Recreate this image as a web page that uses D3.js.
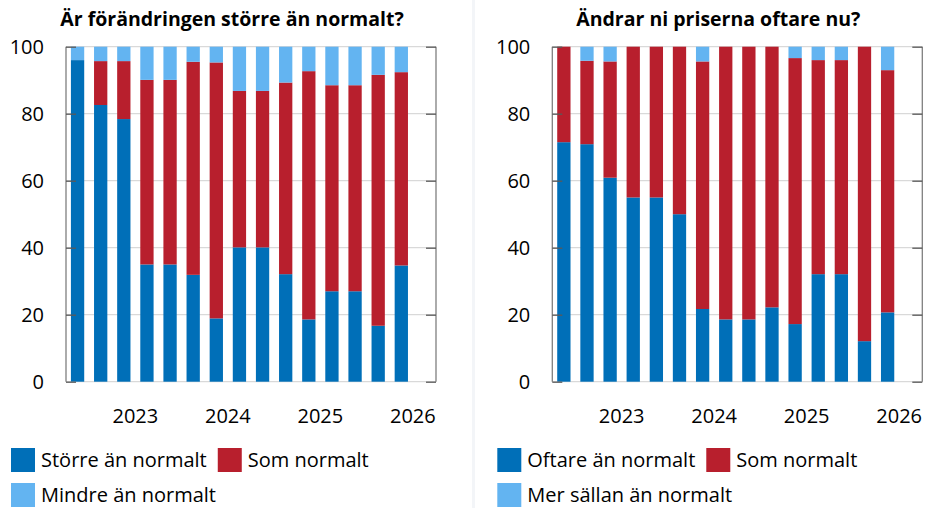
<!DOCTYPE html>
<html>
<head>
<meta charset="utf-8">
<script src="https://cdn.jsdelivr.net/npm/d3@7"></script>
<style>
  html, body { margin: 0; padding: 0; background: #fff; }
  svg { display: block; }
  text { font-family: "Open Sans", "Noto Sans", sans-serif; fill: #000; }
</style>
</head>
<body>
<svg id="chart" width="925" height="508"></svg>
<script>
// ---- Data ----
const quarters = ["2022K4","2023K1","2023K2","2023K3","2023K4","2024K1","2024K2","2024K3","2024K4","2025K1","2025K2","2025K3","2025K4","2026K1","2026K2","2026K3"];
const yearLabels = ["2023","2024","2025","2026"];
const yTicks = [0, 20, 40, 60, 80, 100];

const titleLeft = "Är förändringen större än normalt?";
const seriesLeft = ["Större än normalt", "Som normalt", "Mindre än normalt"];
const storre = [96.0, 82.6, 78.4, 35.0, 35.0, 31.9, 18.9, 40.1, 40.1, 32.1, 18.6, 27.0, 27.0, 16.7, 34.7];
const somLeft = [0.0, 13.1, 17.3, 55.1, 55.1, 63.6, 76.4, 46.7, 46.7, 57.2, 74.1, 61.5, 61.5, 74.9, 57.7];
const mindre = [4.0, 4.3, 4.3, 9.9, 9.9, 4.5, 4.7, 13.2, 13.2, 10.7, 7.3, 11.5, 11.5, 8.4, 7.6];

const titleRight = "Ändrar ni priserna oftare nu?";
const seriesRight = ["Oftare än normalt", "Som normalt", "Mer sällan än normalt"];
const oftare = [71.5, 70.9, 60.9, 55.0, 55.0, 50.0, 21.7, 18.6, 18.6, 22.2, 17.2, 32.1, 32.1, 12.1, 20.7];
const somRight = [28.5, 24.9, 34.7, 45.0, 45.0, 50.0, 73.9, 81.4, 81.4, 77.8, 79.4, 63.9, 63.9, 87.9, 72.3];
const merSallan = [0.0, 4.2, 4.4, 0.0, 0.0, 0.0, 4.4, 0.0, 0.0, 0.0, 3.4, 4.0, 4.0, 0.0, 7.0];

const colors = ["#006FB8", "#B81F2D", "#63B4F1"];

// ---- Drawing ----
const svg = d3.select("#chart");

// faint separator between panels
svg.append("line").attr("x1", 473.5).attr("x2", 473.5).attr("y1", 0).attr("y2", 508)
  .attr("stroke", "#f3f5f8").attr("stroke-width", 3);

function panel(dx, title, names, a, b, c) {
  const x0 = 66 + dx, x1 = 436 + dx, yTop = 46.7, yBot = 381.7;
  const g = svg.append("g");
  const x = d3.scaleBand().domain(quarters).range([x0, x1]).paddingInner(0.425).paddingOuter(0.2125);
  const y = d3.scaleLinear().domain([0, 100]).range([yBot, yTop]);

  // gridlines
  g.append("g").selectAll("line").data(yTicks).join("line")
    .attr("x1", x0).attr("x2", x1)
    .attr("y1", d => y(d)).attr("y2", d => y(d))
    .attr("stroke", "#d9d9d9").attr("stroke-width", 1.3);

  // stacked bars
  const rows = a.map((v, i) => ({ q: quarters[i], s0: a[i], s1: b[i], s2: c[i] }));
  const stack = d3.stack().keys(["s0", "s1", "s2"])(rows);
  g.append("g").selectAll("g").data(stack).join("g")
    .attr("fill", (d, i) => colors[i])
    .selectAll("rect").data(d => d).join("rect")
    .attr("x", d => x(d.data.q))
    .attr("width", x.bandwidth())
    .attr("y", d => y(d[1]))
    .attr("height", d => Math.max(0, y(d[0]) - y(d[1])));

  // frame: left and right verticals
  g.append("line").attr("x1", x0).attr("x2", x0).attr("y1", yTop).attr("y2", yBot)
    .attr("stroke", "#7f7f7f").attr("stroke-width", 1.3);
  g.append("line").attr("x1", x1).attr("x2", x1).attr("y1", yTop).attr("y2", yBot)
    .attr("stroke", "#7f7f7f").attr("stroke-width", 1.3);

  // left and right axes (inward ticks, labels on the left)
  const axL = g.append("g").attr("transform", `translate(${x0},0)`)
    .call(d3.axisRight(y).tickValues(yTicks).tickSize(10).tickFormat(""));
  axL.select(".domain").remove();
  axL.selectAll("line").attr("stroke", "#595959").attr("stroke-width", 1.3);
  const axR = g.append("g").attr("transform", `translate(${x1},0)`)
    .call(d3.axisLeft(y).tickValues(yTicks).tickSize(10).tickFormat(""));
  axR.select(".domain").remove();
  axR.selectAll("line").attr("stroke", "#595959").attr("stroke-width", 1.3);

  g.append("g").selectAll("text").data(yTicks).join("text")
    .attr("x", x0 - 22).attr("y", d => y(d)).attr("dy", "0.35em")
    .attr("text-anchor", "end").attr("font-size", 20).text(d => d);

  // year labels centred between Q2 and Q3 of each year
  g.append("g").selectAll("text").data(yearLabels).join("text")
    .attr("x", d => (x(d + "K2") + x(d + "K3")) / 2 + x.bandwidth() / 2)
    .attr("y", 423).attr("text-anchor", "middle").attr("font-size", 20).text(d => d);

  // title
  g.append("text").attr("x", 232 + dx).attr("y", 26).attr("text-anchor", "middle")
    .attr("font-size", 19.5).attr("font-weight", "bold").text(title);

  // legend
  const lg = g.append("g");
  const lx = 11 + dx;
  lg.append("rect").attr("x", lx).attr("y", 448).attr("width", 24).attr("height", 24).attr("fill", colors[0]);
  const t0 = lg.append("text").attr("x", lx + 30).attr("y", 467).attr("font-size", 20).text(names[0]);
  const lx2 = lx + 30 + t0.node().getComputedTextLength() + 11;
  lg.append("rect").attr("x", lx2).attr("y", 448).attr("width", 24).attr("height", 24).attr("fill", colors[1]);
  lg.append("text").attr("x", lx2 + 30).attr("y", 467).attr("font-size", 20).text(names[1]);
  lg.append("rect").attr("x", lx).attr("y", 483).attr("width", 24).attr("height", 24).attr("fill", colors[2]);
  lg.append("text").attr("x", lx + 30).attr("y", 502).attr("font-size", 20).text(names[2]);
}

panel(0, titleLeft, seriesLeft, storre, somLeft, mindre);
panel(486.3, titleRight, seriesRight, oftare, somRight, merSallan);
</script>
</body>
</html>
